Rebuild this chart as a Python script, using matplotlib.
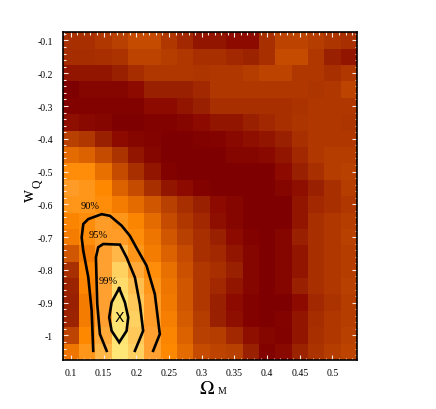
import numpy as np
import matplotlib.pyplot as plt
from matplotlib.colors import LinearSegmentedColormap
from matplotlib.ticker import MultipleLocator

# grid centres
omega_m = [0.1, 0.125, 0.15, 0.175, 0.2, 0.225, 0.25, 0.275, 0.3,
           0.325, 0.35, 0.375, 0.4, 0.425, 0.45, 0.475, 0.5, 0.525]
w_q = [-0.1, -0.15, -0.2, -0.25, -0.3, -0.35, -0.4, -0.45, -0.5, -0.55,
       -0.6, -0.65, -0.7, -0.75, -0.8, -0.85, -0.9, -0.95, -1.0, -1.05]

# relative likelihood (colour level), rows from w=-0.1 down to w=-1.05
likelihood = [
    [0.30, 0.30, 0.35, 0.40, 0.45, 0.45, 0.35, 0.25, 0.15, 0.15, 0.10, 0.10, 0.30, 0.42, 0.42, 0.38, 0.33, 0.30],
    [0.28, 0.28, 0.30, 0.32, 0.42, 0.42, 0.38, 0.35, 0.30, 0.30, 0.25, 0.22, 0.30, 0.45, 0.45, 0.35, 0.20, 0.15],
    [0.15, 0.15, 0.15, 0.20, 0.28, 0.35, 0.35, 0.35, 0.33, 0.35, 0.35, 0.38, 0.42, 0.42, 0.35, 0.35, 0.30, 0.35],
    [0.00, 0.05, 0.05, 0.05, 0.10, 0.20, 0.20, 0.20, 0.25, 0.35, 0.35, 0.35, 0.35, 0.35, 0.35, 0.33, 0.35, 0.42],
    [0.02, 0.02, 0.02, 0.02, 0.02, 0.10, 0.10, 0.15, 0.20, 0.30, 0.30, 0.30, 0.30, 0.30, 0.32, 0.35, 0.35, 0.35],
    [0.12, 0.08, 0.05, 0.00, 0.00, 0.02, 0.02, 0.05, 0.10, 0.15, 0.15, 0.20, 0.25, 0.30, 0.33, 0.35, 0.35, 0.33],
    [0.40, 0.35, 0.20, 0.10, 0.05, 0.03, 0.00, 0.00, 0.02, 0.03, 0.08, 0.12, 0.15, 0.20, 0.30, 0.35, 0.35, 0.35],
    [0.58, 0.55, 0.45, 0.32, 0.15, 0.05, 0.00, 0.00, 0.00, 0.00, 0.05, 0.05, 0.08, 0.15, 0.25, 0.35, 0.38, 0.38],
    [0.72, 0.72, 0.60, 0.45, 0.30, 0.15, 0.02, 0.00, 0.00, 0.00, 0.00, 0.00, 0.00, 0.10, 0.20, 0.30, 0.38, 0.40],
    [0.78, 0.75, 0.70, 0.55, 0.45, 0.30, 0.15, 0.10, 0.02, 0.00, 0.00, 0.00, 0.00, 0.05, 0.12, 0.20, 0.30, 0.38],
    [0.75, 0.75, 0.72, 0.65, 0.58, 0.50, 0.40, 0.30, 0.20, 0.10, 0.05, 0.00, 0.00, 0.00, 0.15, 0.25, 0.30, 0.35],
    [0.68, 0.72, 0.78, 0.75, 0.68, 0.58, 0.45, 0.35, 0.25, 0.12, 0.05, 0.00, 0.00, 0.00, 0.15, 0.30, 0.35, 0.38],
    [0.65, 0.72, 0.78, 0.78, 0.72, 0.62, 0.50, 0.40, 0.30, 0.20, 0.10, 0.02, 0.00, 0.05, 0.20, 0.30, 0.35, 0.40],
    [0.50, 0.65, 0.80, 0.85, 0.75, 0.65, 0.55, 0.45, 0.30, 0.25, 0.15, 0.05, 0.00, 0.05, 0.15, 0.30, 0.35, 0.38],
    [0.30, 0.70, 0.80, 0.90, 0.82, 0.72, 0.60, 0.48, 0.35, 0.30, 0.20, 0.05, 0.00, 0.05, 0.15, 0.30, 0.35, 0.38],
    [0.22, 0.68, 0.80, 0.93, 0.86, 0.75, 0.62, 0.50, 0.35, 0.25, 0.15, 0.05, 0.00, 0.05, 0.20, 0.30, 0.35, 0.40],
    [0.20, 0.65, 0.80, 0.95, 0.88, 0.78, 0.64, 0.50, 0.35, 0.20, 0.10, 0.02, 0.00, 0.00, 0.10, 0.25, 0.32, 0.38],
    [0.22, 0.65, 0.80, 0.96, 0.90, 0.78, 0.66, 0.52, 0.38, 0.20, 0.12, 0.02, 0.00, 0.03, 0.15, 0.28, 0.35, 0.38],
    [0.42, 0.70, 0.82, 0.96, 0.88, 0.80, 0.68, 0.55, 0.40, 0.38, 0.25, 0.12, 0.05, 0.02, 0.15, 0.30, 0.35, 0.40],
    [0.62, 0.75, 0.85, 0.97, 0.90, 0.80, 0.70, 0.58, 0.45, 0.42, 0.40, 0.20, 0.02, 0.08, 0.22, 0.32, 0.38, 0.42],
]

# confidence contours
c90_x = [0.1342, 0.1318, 0.1266, 0.119, 0.1165, 0.119, 0.1266, 0.147, 0.1597,
         0.1776, 0.1902, 0.2029, 0.2157, 0.2284, 0.236, 0.2258]
c90_y = [-1.047, -0.925, -0.822, -0.742, -0.701, -0.660, -0.645, -0.630, -0.635,
         -0.665, -0.696, -0.742, -0.787, -0.874, -0.996, -1.047]
c95_x = [0.1547, 0.1444, 0.1403, 0.1383, 0.1418, 0.1495, 0.175, 0.1852, 0.1979,
         0.2055, 0.2105, 0.1979]
c95_y = [-1.047, -0.996, -0.904, -0.762, -0.731, -0.721, -0.723, -0.762, -0.823,
         -0.904, -0.986, -1.047]
c99_x = [0.1739, 0.1623, 0.1586, 0.1623, 0.1739, 0.1852, 0.1877, 0.1826, 0.1739]
c99_y = [-0.856, -0.899, -0.945, -0.986, -1.021, -0.986, -0.945, -0.899, -0.856]

best_fit = (0.174, -0.944)
labels = ["90%", "95%", "99%"]
label_pos = [(0.1293, -0.604), (0.1418, -0.693), (0.157, -0.831)]

cmap = LinearSegmentedColormap.from_list("tec", [
    (0.0, "#7f0000"), (0.1, "#8c0a00"), (0.2, "#992000"), (0.3, "#a83000"),
    (0.4, "#b84000"), (0.5, "#d05500"), (0.6, "#e87000"), (0.7, "#ff8800"),
    (0.8, "#ffa030"), (0.9, "#ffd060"), (1.0, "#fff080")])

plt.rcParams['font.family'] = 'Liberation Serif'
plt.rcParams['mathtext.fontset'] = 'stix'

fig = plt.figure(figsize=(4.36, 4.10), dpi=100)
ax = fig.add_axes([0.1438, 0.1195, 0.675, 0.7993])

om = np.array(omega_m)
wq = np.array(w_q)
x_edges = np.concatenate([om - 0.0125, [om[-1] + 0.0125]])
y_edges = np.concatenate([wq + 0.025, [wq[-1] - 0.025]])
ax.pcolormesh(x_edges, y_edges, np.array(likelihood), cmap=cmap, vmin=0, vmax=1)

for cx, cy in [(c90_x, c90_y), (c95_x, c95_y), (c99_x, c99_y)]:
    ax.plot(cx, cy, color='black', lw=1.9, solid_joinstyle='miter')

ax.text(best_fit[0], best_fit[1], "X", ha='center', va='center', fontsize=10,
        family='DejaVu Sans', color='black')
for lab, (lx, ly) in zip(labels, label_pos):
    ax.text(lx, ly, lab, ha='center', va='center', fontsize=7.5)

ax.set_xlim(0.0875, 0.5375)
ax.set_ylim(-1.075, -0.075)
ax.xaxis.set_minor_locator(MultipleLocator(0.01))
ax.yaxis.set_minor_locator(MultipleLocator(0.02))
ax.set_xticks([0.1, 0.15, 0.2, 0.25, 0.3, 0.35, 0.4, 0.45, 0.5])
ax.set_xticklabels(["0.1", "0.15", "0.2", "0.25", "0.3", "0.35", "0.4", "0.45", "0.5"])
ax.set_yticks([-0.1, -0.2, -0.3, -0.4, -0.5, -0.6, -0.7, -0.8, -0.9, -1.0])
ax.set_yticklabels(["-0.1", "-0.2", "-0.3", "-0.4", "-0.5", "-0.6", "-0.7", "-0.8", "-0.9", "-1"])
ax.tick_params(which='both', direction='in', top=True, right=True,
               color='#ffe8e0', labelsize=7, width=0.8)
ax.tick_params(which='major', length=3.5)
ax.tick_params(which='minor', length=1.8)
ax.tick_params(axis='x', pad=6)
ax.tick_params(axis='y', pad=7)
for s in ax.spines.values():
    s.set_linewidth(1.2)
    s.set_color('black')

# axis titles
ax.text(0.492, -0.087, r"$\Omega$", transform=ax.transAxes, fontsize=14,
        ha='center', va='center')
ax.text(0.54, -0.092, "M", transform=ax.transAxes, fontsize=7,
        ha='center', va='center')
ax.text(-0.1145, 0.505, "w", transform=ax.transAxes, fontsize=13,
        ha='center', va='center', rotation=90)
ax.text(-0.0856, 0.54, "Q", transform=ax.transAxes, fontsize=8.5,
        ha='center', va='center', rotation=90)

fig.savefig("out.png", dpi=100)
